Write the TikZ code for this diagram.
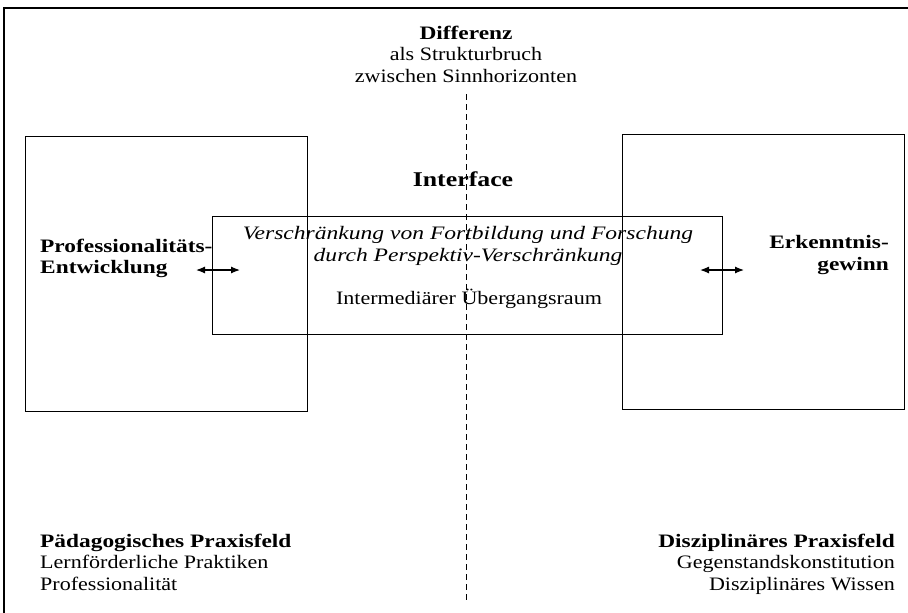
\documentclass[tikz,border=0pt]{standalone}
\usepackage{fontspec}
\setmainfont{Liberation Serif}[FakeStretch=1.16, BoldFeatures={FakeStretch=1.23},
  ItalicFeatures={FakeStretch=1.24}]
\usetikzlibrary{arrows.meta}

\newcommand{\figfont}{\fontsize{19pt}{21.5pt}\selectfont}

\begin{document}
\begin{tikzpicture}[x=1pt, y=-1pt,
                    field/.style={rectangle, draw, line width=1pt, inner sep=0pt},
                    label/.style={inner sep=0pt},
                    link/.style={{Latex[length=9pt,width=7pt]}-{Latex[length=9pt,width=7pt]}, line width=1.2pt},
                    font=\figfont]
  \useasboundingbox (0, 0) rectangle (908, 613);

  % Frame.
  \draw [line width=1.3pt] (4, 613) -- (4, 8) -- (908, 8);

  % Fields.
  \node at (166, 273.5) [field, minimum width=282, minimum height=275, name=PaedField] {};
  \node at (763, 271.5) [field, minimum width=282, minimum height=275, name=DiszField] {};
  \node at (467, 275) [field, minimum width=510, minimum height=118, name=Interface] {};

  % Labels.
  \node at (466, 25.5) [label, anchor=north, align=center, name=Differenz]
        {\textbf{Differenz}\\als Strukturbruch\\zwischen Sinnhorizonten};
  \node at (463, 186) [label, anchor=base, font=\fontsize{21pt}{24pt}\bfseries\selectfont,
        name=InterfaceTitle] {Interface};
  \node at (468, 226.5) [label, anchor=north, align=center, font=\figfont\itshape, name=Verschraenkung]
        {Verschränkung von Fortbildung und Forschung\\durch Perspektiv-Verschränkung};
  \node at (469, 304) [label, anchor=base, name=Uebergangsraum] {Intermediärer Übergangsraum};
  \node at (40, 238.5) [label, anchor=north west, align=left, font=\figfont\bfseries, name=Professionalitaet]
        {Professionalitäts-\\Entwicklung};
  \node at (889, 235.5) [label, anchor=north east, align=right, font=\figfont\bfseries, name=Erkenntnis]
        {Erkenntnis-\\gewinn};
  \node at (40, 533.5) [label, anchor=north west, align=left, name=PaedPraxis]
        {\textbf{Pädagogisches Praxisfeld}\\Lernförderliche Praktiken\\Professionalität};
  \node at (895, 533.5) [label, anchor=north east, align=right, name=DiszPraxis]
        {\textbf{Disziplinäres Praxisfeld}\\Gegenstandskonstitution\\Disziplinäres Wissen};

  % Ends of the links and of the divide.
  \coordinate (leftOuter) at (196, 270);
  \coordinate (leftInner) at (240, 270);
  \coordinate (rightInner) at (700, 270);
  \coordinate (rightOuter) at (744, 270);
  \coordinate (divideTop) at (466, 94);
  \coordinate (divideBottom) at (466, 600);

  % Divide.
  \draw [line width=0.8pt, dash pattern=on 6pt off 4pt] (divideTop) -- (divideBottom);

  % Links.
  \draw [link] (leftOuter) -- (leftInner);
  \draw [link] (rightInner) -- (rightOuter);
\end{tikzpicture}
\end{document}
